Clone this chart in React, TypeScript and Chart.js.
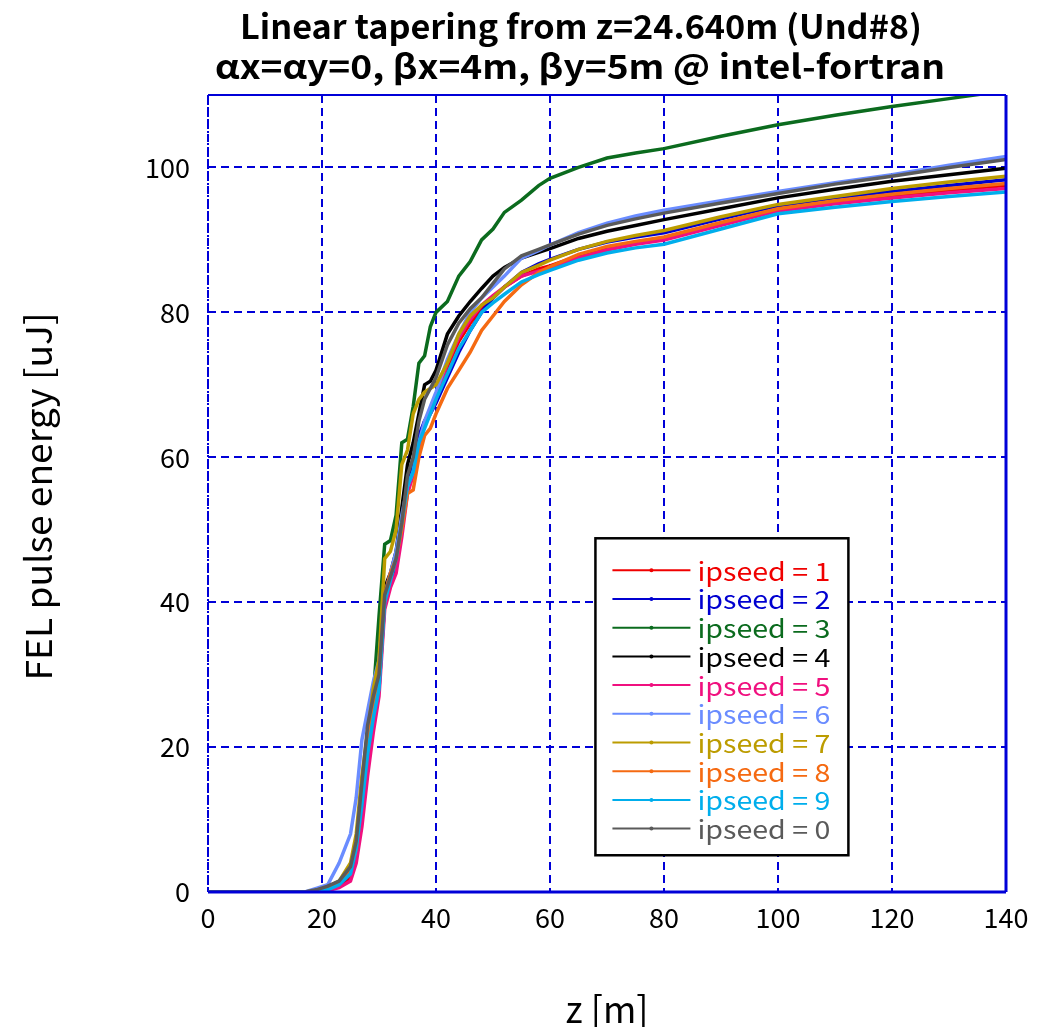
import React, { useEffect, useRef } from "react";
import { Chart, registerables } from "chart.js";

Chart.register(...registerables);

// z positions [m] shared by all series
const Z = [0, 17, 19, 21, 23, 25, 26, 27, 28, 29, 30, 31, 32, 33, 34, 35, 36, 37, 38, 39, 40, 42, 44, 46, 48, 50, 52, 55, 58, 60, 65, 70, 75, 80, 90, 100, 110, 120, 130, 140];

const S1 = [0, 0, 0, 0.2, 0.8, 2, 5, 11, 18, 24, 28, 40, 42.5, 45, 50, 56, 58, 62, 65, 66.5, 68, 72.5, 76, 78.5, 80.5, 82, 83.5, 85, 86, 86.4, 87.8, 88.9, 89.6, 90.2, 92.2, 94.1, 95.2, 96.1, 96.9, 97.5];
const S2 = [0, 0, 0, 0.3, 1, 2.5, 6, 12, 19, 25, 29, 40, 43, 45, 50, 56, 59, 63, 65, 66, 67.5, 71, 74.5, 77.5, 80, 82, 83.5, 85.5, 86.7, 87.3, 88.7, 89.7, 90.4, 91.0, 92.9, 94.7, 95.8, 96.7, 97.5, 98.3];
const S3 = [0, 0, 0.1, 0.5, 1.2, 3, 6, 13, 20, 27, 38, 48, 48.5, 52, 62, 62.5, 67, 73, 74, 78, 80, 81.5, 85, 87, 90, 91.5, 93.8, 95.5, 97.5, 98.5, 100, 101.3, 102, 102.6, 104.3, 105.9, 107.2, 108.4, 109.5, 110.6];
const S4 = [0, 0, 0.1, 0.5, 1.2, 3, 6, 13, 20, 27, 30, 42, 44, 47, 53, 59, 62, 66, 70, 70.5, 72, 77, 79.5, 81.5, 83.3, 85, 86.2, 87.5, 88.3, 88.8, 90.2, 91.2, 92, 92.8, 94.3, 95.8, 97, 98.1, 99, 99.9];
const S5 = [0, 0, 0, 0.2, 0.6, 1.5, 4, 9, 16, 22, 27, 39, 42, 44, 49, 55, 57.5, 61, 64.5, 66, 68, 73, 76.5, 79, 81, 82.3, 83.5, 85, 85.7, 86.1, 87.5, 88.6, 89.4, 90, 92, 94, 95, 95.8, 96.5, 97.1];
const S6 = [0, 0, 0.5, 1, 4, 8, 13, 21, 25, 29, 32, 41, 44, 47, 52, 56, 58, 62, 65, 67, 69, 73.5, 77, 80, 82, 83.5, 85, 87.5, 88.5, 89.3, 91, 92.3, 93.3, 94.1, 95.4, 96.7, 97.9, 99, 100.3, 101.5];
const S7 = [0, 0, 0.2, 0.7, 1.5, 4, 8, 16, 22, 28, 32, 46, 47, 50, 59, 61, 66, 68, 69, 69.5, 70, 73, 77, 79.5, 81, 82, 83.5, 85.5, 86.5, 87.2, 88.7, 89.8, 90.6, 91.3, 93.2, 94.9, 96, 97.1, 98, 98.8];
const S8 = [0, 0, 0.1, 0.5, 1.2, 3, 6, 13, 20, 26, 30, 41, 44, 46, 50, 55, 55.5, 60, 63, 64, 66, 69.5, 72, 74.5, 77.5, 79.5, 81.5, 83.8, 85.5, 86.3, 88, 89.1, 89.8, 90.4, 92.4, 94.3, 95.4, 96.3, 97.1, 97.8];
const S9 = [0, 0, 0, 0.3, 1, 2.5, 6, 12, 19, 24, 28, 40, 43, 46, 51, 56, 58, 62, 64, 66, 68, 71.5, 75, 77.5, 80, 81.3, 82.5, 84.2, 85.2, 85.8, 87.2, 88.2, 88.9, 89.4, 91.5, 93.6, 94.5, 95.3, 96, 96.6];
const S0 = [0, 0, 0.3, 0.8, 1.5, 3.5, 7, 15, 23, 27, 30, 41, 43.5, 46, 51, 57.5, 60, 65, 68, 69.5, 71, 75.5, 78.5, 80.5, 82, 84, 86, 87.8, 88.7, 89.3, 90.8, 92, 92.9, 93.7, 95.1, 96.4, 97.7, 98.8, 100, 101.1];

const SERIES_LABELS = ["ipseed = 1", "ipseed = 2", "ipseed = 3", "ipseed = 4", "ipseed = 5", "ipseed = 6", "ipseed = 7", "ipseed = 8", "ipseed = 9", "ipseed = 0"];
const SERIES_VALUES = [S1, S2, S3, S4, S5, S6, S7, S8, S9, S0];
const SERIES_COLORS = ["#F00000", "#0000D0", "#0B6B1E", "#000000", "#F0107F", "#6A8CFF", "#BC9C00", "#F56A12", "#00AEEC", "#5A5A5A"];

const X_TICKS = [0, 20, 40, 60, 80, 100, 120, 140];
const Y_TICKS = [0, 20, 40, 60, 80, 100];

const TITLE_1 = "Linear tapering from z=24.640m (Und#8)";
const TITLE_2 = "αx=αy=0, βx=4m, βy=5m @ intel-fortran";
const X_TITLE = "z [m]";
const Y_TITLE = "FEL pulse energy [uJ]";

const FONT = '"Noto Sans CJK JP", "Noto Sans", sans-serif';
const GRID_BLUE = "#0000D8";

function fitText(ctx: any, text: string, cx: number, cy: number, targetW: number) {
  const w = ctx.measureText(text).width;
  const s = targetW / w;
  ctx.save();
  ctx.translate(cx, cy);
  ctx.scale(s, 1);
  ctx.fillText(text, 0, 0);
  ctx.restore();
}

const decorPlugin = {
  id: "decor",
  afterDatasetsDraw(chart: any) {
    const { ctx, chartArea: a } = chart;
    ctx.save();
    ctx.strokeStyle = GRID_BLUE;
    ctx.lineWidth = 2;
    ctx.beginPath();
    ctx.moveTo(a.left, a.top);
    ctx.lineTo(a.right, a.top);
    ctx.stroke();
    ctx.lineWidth = 3;
    ctx.beginPath();
    ctx.moveTo(a.right, a.top);
    ctx.lineTo(a.right, a.bottom);
    ctx.moveTo(a.left, a.bottom);
    ctx.lineTo(a.right, a.bottom);
    ctx.stroke();
    ctx.lineWidth = 2;
    ctx.setLineDash([2, 2]);
    ctx.beginPath();
    ctx.moveTo(a.left, a.top);
    ctx.lineTo(a.left, a.bottom);
    ctx.stroke();
    ctx.restore();
  },
  afterDraw(chart: any) {
    const { ctx, chartArea: a } = chart;
    const w = a.right - a.left;
    const h = a.bottom - a.top;
    ctx.save();
    ctx.fillStyle = "#000";
    ctx.textAlign = "center";
    ctx.textBaseline = "middle";
    ctx.font = `bold 33px ${FONT}`;
    fitText(ctx, TITLE_1, 573, 18, 682);
    fitText(ctx, TITLE_2, 572, 58, 730);
    ctx.font = `36px ${FONT}`;
    ctx.fillText(X_TITLE, a.left + w / 2, 1001);
    ctx.save();
    ctx.translate(30, (a.top + a.bottom) / 2 + 3);
    ctx.rotate(-Math.PI / 2);
    fitText(ctx, Y_TITLE, 0, 0, 368);
    ctx.restore();

    // legend box inside the plot
    const bx = a.left + w * 0.4855;
    const by = a.top + h * 0.5562;
    const bw = w * 0.317;
    const bh = h * 0.3977;
    ctx.fillStyle = "#fff";
    ctx.fillRect(bx, by, bw, bh);
    ctx.strokeStyle = "#000";
    ctx.lineWidth = 2.5;
    ctx.strokeRect(bx, by, bw, bh);
    ctx.font = `25px ${FONT}`;
    ctx.textAlign = "left";
    ctx.textBaseline = "middle";
    const rowH = 28.7;
    SERIES_LABELS.forEach((lab, i) => {
      const y = by + 32 + i * rowH;
      const x1 = bx + 17;
      const x2 = bx + 95;
      ctx.strokeStyle = SERIES_COLORS[i];
      ctx.lineWidth = 2;
      ctx.beginPath();
      ctx.moveTo(x1, y);
      ctx.lineTo(x2, y);
      ctx.stroke();
      ctx.fillStyle = SERIES_COLORS[i];
      ctx.beginPath();
      ctx.arc((x1 + x2) / 2, y, 2, 0, Math.PI * 2);
      ctx.fill();
      fitText(ctx, lab, bx + 102, y + 1, 133);
    });
    ctx.restore();
  },
};

export default function App() {
  const ref = useRef<HTMLCanvasElement | null>(null);
  useEffect(() => {
    document.documentElement.style.overflow = "hidden";
    if (!ref.current) return;
    const datasets = SERIES_VALUES.map((vals, i) => ({
      label: SERIES_LABELS[i],
      data: Z.map((z, k) => ({ x: z, y: vals[k] })),
      borderColor: SERIES_COLORS[i],
      backgroundColor: SERIES_COLORS[i],
      borderWidth: 3.5,
      pointRadius: 0,
      tension: 0,
      fill: false,
      order: SERIES_VALUES.length - 1 - i,
    }));
    const chart = new Chart(ref.current, {
      type: "line",
      data: { datasets },
      options: {
        responsive: false,
        animation: false,
        events: [],
        layout: { padding: { top: 87, right: 42, left: 0, bottom: 0 } },
        plugins: {
          legend: { display: false },
          title: { display: false },
          tooltip: { enabled: false },
        },
        scales: {
          x: {
            type: "linear",
            min: 0,
            max: 140,
            afterFit: (s: any) => {
              s.height = 135;
            },
            afterBuildTicks: (s: any) => {
              s.ticks = X_TICKS.map((v) => ({ value: v }));
            },
            ticks: {
              font: { family: FONT, size: 27 },
              color: "#000",
              padding: 10,
              maxRotation: 0,
            },
            grid: { color: GRID_BLUE, lineWidth: 2, drawTicks: false },
            border: { display: false, dash: [8, 5] },
          },
          y: {
            type: "linear",
            min: 0,
            max: 110,
            afterFit: (s: any) => {
              s.width = 200;
            },
            afterBuildTicks: (s: any) => {
              s.ticks = Y_TICKS.map((v) => ({ value: v }));
            },
            ticks: {
              font: { family: FONT, size: 27 },
              color: "#000",
              padding: 18,
            },
            grid: { color: GRID_BLUE, lineWidth: 2, drawTicks: false },
            border: { display: false, dash: [8, 5] },
          },
        },
      },
      plugins: [decorPlugin],
    });
    return () => chart.destroy();
  }, []);
  return <canvas ref={ref} width={1040} height={1019} style={{ display: "block" }} />;
}
